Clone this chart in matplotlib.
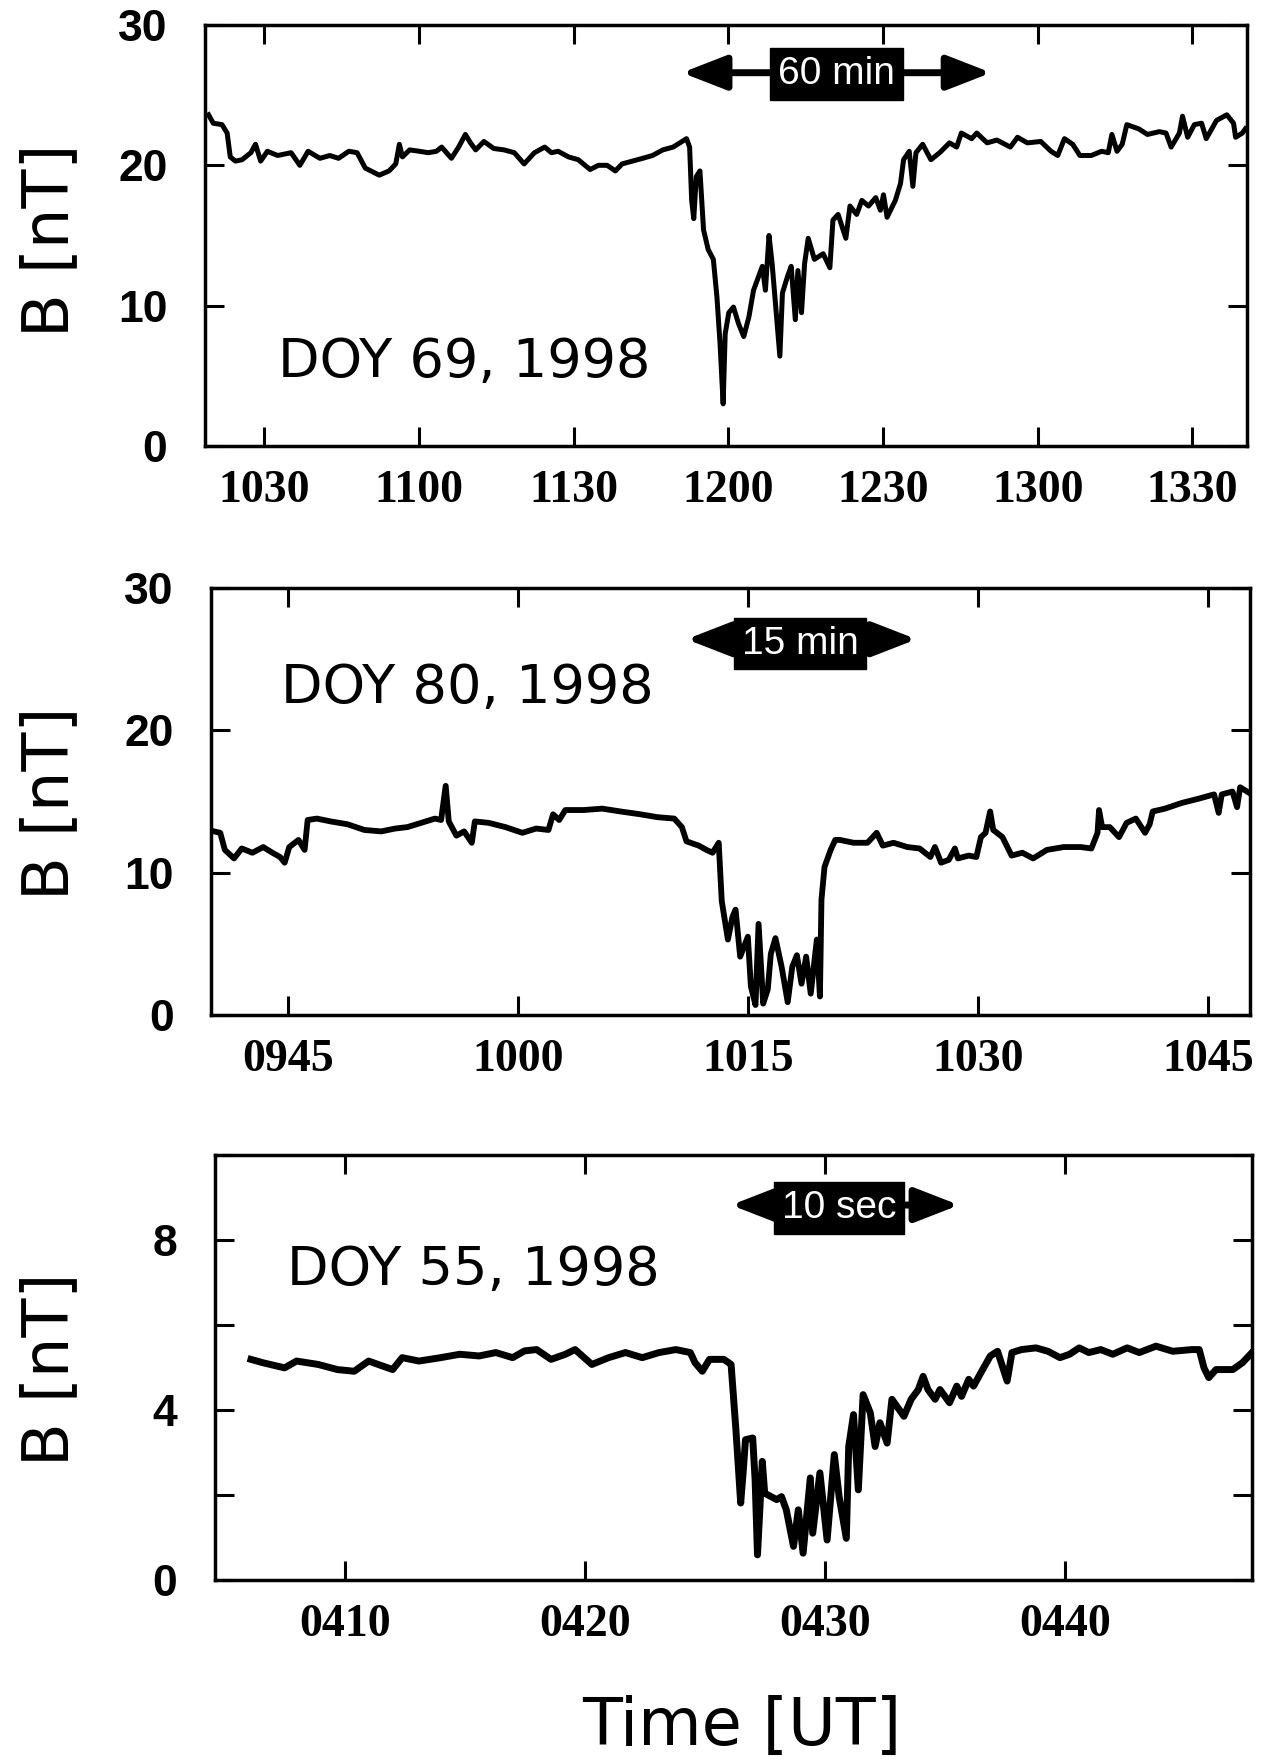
import matplotlib.pyplot as plt

# time in minutes after 00 UT, B in nT
t69 = [619.2, 620.1, 621.8, 622.8, 623.4, 624.4, 625.7, 627.4, 628.3, 629.3,
       630.6, 632.6, 635.2, 636.9, 638.5, 640.8, 642.7, 644.4, 646.4, 648.0,
       649.6, 652.3, 654.2, 655.5, 656.2, 656.8, 658.2, 660.1, 661.8, 663.4,
       664.4, 666.3, 667.7, 669.0, 670.0, 671.0, 672.6, 674.5, 676.5, 678.5,
       680.4, 682.4, 684.4, 685.7, 687.0, 689.0, 690.9, 693.2, 694.8, 696.5,
       698.1, 699.4, 701.4, 703.4, 705.3, 707.3, 709.3, 710.6, 711.9, 712.5,
       712.9, 713.3, 713.8, 714.5, 715.2, 716.1, 717.1, 717.8, 718.4, 719.0,
       719.4, 720.1, 721.0, 722.0, 723.0, 724.0, 724.9, 725.9, 726.6, 727.2,
       727.9, 728.5, 729.2, 730.0, 730.5, 731.5, 732.2, 733.0, 733.5, 734.2,
       734.8, 735.5, 736.7, 738.4, 739.7, 740.3, 741.3, 742.8, 743.6, 744.9,
       745.9, 747.2, 748.6, 749.5, 750.1, 750.8, 752.4, 753.4, 754.0, 755.1,
       755.8, 756.4, 757.7, 759.3, 761.0, 762.9, 764.3, 765.2, 767.2, 768.2,
       770.2, 772.1, 774.7, 776.1, 778.0, 780.6, 782.6, 783.9, 785.2, 786.8,
       788.2, 790.4, 792.4, 793.7, 794.4, 795.4, 796.4, 797.3, 799.6, 801.3,
       803.6, 804.9, 805.9, 807.5, 808.1, 809.1, 810.4, 811.8, 812.7, 814.7,
       816.7, 818.0, 818.4, 819.7, 820.3]
b69 = [23.6, 23.0, 22.9, 22.3, 20.6, 20.3, 20.4, 20.9, 21.5, 20.3,
       21.0, 20.7, 20.9, 20.0, 21.0, 20.5, 20.7, 20.5, 21.0, 20.9,
       19.8, 19.3, 19.6, 20.1, 21.5, 20.6, 21.1, 21.0, 20.9, 21.0,
       21.3, 20.5, 21.3, 22.2, 21.6, 21.1, 21.7, 21.2, 21.1, 20.9,
       20.1, 20.9, 21.3, 20.9, 21.0, 20.6, 20.4, 19.7, 20.0, 20.0,
       19.6, 20.1, 20.3, 20.5, 20.7, 21.1, 21.3, 21.6, 21.9, 21.3,
       17.5, 16.2, 19.2, 19.6, 15.4, 14.0, 13.3, 10.6, 7.3, 3.0,
       8.0, 9.5, 9.9, 8.7, 7.8, 9.2, 11.1, 12.1, 12.8, 11.1,
       15.0, 13.0, 9.9, 6.4, 10.9, 12.1, 12.8, 9.0, 12.5, 9.5,
       13.0, 14.8, 13.3, 13.7, 12.7, 16.1, 16.5, 14.8, 17.1, 16.5,
       17.5, 17.1, 17.7, 16.8, 17.9, 16.3, 17.5, 18.7, 20.4, 21.0,
       18.5, 20.9, 21.5, 20.4, 20.9, 21.6, 21.3, 22.3, 21.9, 22.3,
       21.6, 21.8, 21.3, 22.0, 21.6, 21.7, 21.0, 20.7, 21.9, 21.5,
       20.7, 20.7, 21.0, 20.9, 22.2, 21.0, 21.5, 22.9, 22.6, 22.2,
       22.4, 22.3, 21.3, 22.3, 23.5, 22.0, 22.9, 23.0, 21.9, 23.2,
       23.6, 23.0, 22.0, 22.3, 22.6]

t80 = [580.2, 580.6, 580.9, 581.5, 582.0, 582.7, 583.4, 584.0, 584.5, 584.8,
       585.1, 585.7, 586.1, 586.3, 586.9, 587.8, 588.9, 590.0, 591.1, 592.0,
       592.8, 593.7, 594.6, 595.0, 595.3, 595.5, 596.0, 596.5, 597.0, 597.2,
       598.1, 599.2, 600.3, 601.2, 602.0, 602.3, 602.7, 603.1, 604.3, 605.5,
       606.7, 608.0, 609.1, 610.2, 610.7, 611.0, 611.8, 612.3, 612.7, 613.1,
       613.3, 613.7, 614.0, 614.2, 614.5, 615.0, 615.2, 615.5, 615.7, 616.0,
       616.3, 616.5, 616.8, 617.2, 617.6, 617.9, 618.2, 618.5, 618.8, 619.1,
       619.5, 619.7, 619.8, 620.0, 620.4, 620.7, 621.0, 621.9, 622.8, 623.4,
       623.8, 624.5, 625.4, 626.2, 626.9, 627.2, 627.6, 628.1, 628.5, 628.7,
       629.4, 629.9, 630.2, 630.5, 630.8, 631.0, 631.6, 632.2, 632.9, 633.6,
       634.5, 635.6, 636.7, 637.4, 637.8, 637.9, 638.1, 638.6, 639.2, 639.7,
       640.3, 640.9, 641.2, 641.4, 642.2, 643.3, 644.4, 645.4, 645.7, 645.9,
       646.6, 646.9, 647.1, 647.7]
b80 = [12.9, 12.8, 11.6, 11.0, 11.7, 11.4, 11.8, 11.4, 11.1, 10.7,
       11.8, 12.3, 11.6, 13.7, 13.8, 13.6, 13.4, 13.0, 12.9, 13.1,
       13.2, 13.5, 13.8, 13.7, 16.1, 13.6, 12.6, 12.9, 12.1, 13.6,
       13.5, 13.2, 12.8, 13.1, 13.0, 14.1, 13.7, 14.4, 14.4, 14.5,
       14.3, 14.1, 13.9, 13.8, 13.2, 12.2, 11.9, 11.6, 11.4, 12.1,
       8.0, 5.3, 6.9, 7.4, 4.1, 5.5, 2.0, 0.7, 6.4, 0.8,
       1.8, 4.3, 5.4, 3.4, 0.9, 3.4, 4.2, 2.2, 4.1, 1.5,
       5.3, 1.3, 8.1, 10.4, 11.6, 12.3, 12.3, 12.1, 12.1, 12.8,
       11.9, 12.1, 11.8, 11.7, 11.1, 11.8, 10.7, 10.9, 11.7, 11.0,
       11.2, 11.1, 12.5, 12.8, 14.3, 13.0, 12.5, 11.2, 11.4, 11.0,
       11.6, 11.8, 11.8, 11.7, 12.8, 14.4, 13.2, 13.2, 12.5, 13.5,
       13.8, 12.8, 13.4, 14.3, 14.5, 14.9, 15.2, 15.5, 14.2, 15.5,
       15.7, 14.6, 16.0, 15.6]

t55 = [246.1, 246.6, 247.5, 248.0, 248.9, 249.7, 250.4, 251.0, 251.4, 252.0,
       252.4, 253.1, 254.0, 254.8, 255.6, 256.3, 257.0, 257.5, 258.0, 258.6,
       259.2, 259.6, 260.3, 261.0, 261.7, 262.4, 263.1, 263.8, 264.4, 264.6,
       264.9, 265.2, 265.8, 266.1, 266.3, 266.5, 266.6, 266.7, 267.0, 267.1,
       267.2, 267.4, 267.5, 268.0, 268.2, 268.4, 268.7, 268.9, 269.1, 269.4,
       269.5, 269.8, 270.1, 270.4, 270.6, 270.9, 271.0, 271.2, 271.4, 271.6,
       271.9, 272.1, 272.3, 272.6, 272.8, 273.0, 273.3, 273.6, 273.9, 274.1,
       274.3, 274.6, 274.8, 275.2, 275.5, 275.7, 276.0, 276.2, 276.5, 276.9,
       277.2, 277.6, 277.8, 278.2, 278.8, 279.3, 279.8, 280.2, 280.6, 281.0,
       281.5, 282.0, 282.6, 283.1, 283.8, 284.5, 285.3, 285.6, 285.8, 286.0,
       286.3, 287.0, 287.4, 287.8]
b55 = [5.19, 5.11, 4.99, 5.15, 5.07, 4.95, 4.91, 5.15, 5.07, 4.95,
       5.23, 5.15, 5.23, 5.31, 5.27, 5.35, 5.23, 5.39, 5.42, 5.19,
       5.31, 5.42, 5.07, 5.23, 5.35, 5.23, 5.35, 5.42, 5.35, 5.11,
       4.91, 5.19, 5.19, 5.07, 3.54, 1.81, 2.52, 3.30, 3.34, 2.36,
       0.59, 2.79, 2.04, 1.89, 1.96, 1.65, 0.79, 1.65, 0.63, 2.40,
       1.10, 2.52, 0.94, 2.95, 1.96, 0.98, 3.14, 3.89, 2.12, 4.36,
       3.93, 3.14, 3.70, 3.22, 4.25, 4.09, 3.85, 4.25, 4.48, 4.79,
       4.48, 4.25, 4.48, 4.17, 4.56, 4.32, 4.72, 4.56, 4.87, 5.27,
       5.38, 4.68, 5.35, 5.42, 5.46, 5.38, 5.23, 5.31, 5.46, 5.35,
       5.42, 5.31, 5.46, 5.35, 5.50, 5.38, 5.42, 5.42, 4.99, 4.76,
       4.95, 4.95, 5.11, 5.35]

ticks69 = ['1030', '1100', '1130', '1200', '1230', '1300', '1330']
ticks80 = ['0945', '1000', '1015', '1030', '1045']
ticks55 = ['0410', '0420', '0430', '0440']
yticks69 = [0, 10, 20, 30]
yticks55 = [0, 2, 4, 6, 8, 10]
ylabels55 = ['0', '', '4', '', '8', '']


def hhmm(s):
    return int(s[:2]) * 60 + int(s[2:])


def panel(ax, t, b, xt, yt, ylab, lw):
    ax.plot(t, b, color='black', lw=lw, solid_joinstyle='round')
    ax.set_xticks([hhmm(s) for s in xt])
    ax.set_xticklabels(xt, fontfamily='Liberation Serif', fontweight='bold', fontsize=33)
    ax.set_yticks(yt)
    ax.set_yticklabels(ylab, fontfamily='Liberation Sans', fontweight='bold', fontsize=32)
    ax.tick_params(direction='in', top=True, right=True, length=14, width=2.2)
    ax.tick_params(axis='x', pad=17)
    ax.tick_params(axis='y', pad=27)
    for s in ax.spines.values():
        s.set_linewidth(2.5)


def span(ax, x0, x1, y, cx, cy, label):
    ax.annotate('', xy=(x0, y), xytext=(x1, y),
                arrowprops=dict(arrowstyle='<|-|>,head_length=0.9,head_width=0.35',
                                color='black', lw=5, mutation_scale=30,
                                shrinkA=0, shrinkB=0))
    ax.text(cx, cy, label, color='white', fontsize=28, ha='center', va='center',
            fontfamily='Liberation Sans',
            bbox=dict(boxstyle='square,pad=0.2', fc='black', ec='black'))


def main():
    fig = plt.figure(figsize=(12.63, 17.6), dpi=100)

    ax1 = fig.add_axes([0.1623, 0.7466, 0.825, 0.2392])
    panel(ax1, t69, b69, ticks69, yticks69, [str(v) for v in yticks69], 3.6)
    ax1.set_xlim(618.5, 820.6)
    ax1.set_ylim(0, 30)
    span(ax1, 711, 771, 26.6, 741, 26.5, '60 min')
    ax1.text(0.07, 0.164, 'DOY 69, 1998', transform=ax1.transAxes, fontsize=39)

    ax2 = fig.add_axes([0.1671, 0.4233, 0.8227, 0.2426])
    panel(ax2, t80, b80, ticks80, yticks69, [str(v) for v in yticks69], 4.2)
    ax2.set_xlim(580.0, 647.75)
    ax2.set_ylim(0, 30)
    span(ax2, 611, 626, 26.4, 618.4, 26.1, '15 min')
    ax2.text(0.067, 0.731, 'DOY 80, 1998', transform=ax2.transAxes, fontsize=39)

    ax3 = fig.add_axes([0.1702, 0.1023, 0.8211, 0.2415])
    panel(ax3, t55, b55, ticks55, yticks55, ylabels55, 5)
    ax3.set_xlim(244.6, 287.8)
    ax3.set_ylim(0, 10)
    span(ax3, 266.1, 275.6, 8.82, 270.6, 8.75, '10 sec')
    ax3.text(0.069, 0.694, 'DOY 55, 1998', transform=ax3.transAxes, fontsize=39)

    for yc in [240, 803, 1369]:
        fig.text(50 / 1263, 1 - yc / 1760, 'B [nT]', rotation=90, fontsize=46,
                 ha='center', va='center')
    fig.text(0.587, 0.0188, 'Time [UT]', fontsize=47, ha='center', va='center')

    plt.savefig('out.png', dpi=100)


if __name__ == "__main__":
    main()
